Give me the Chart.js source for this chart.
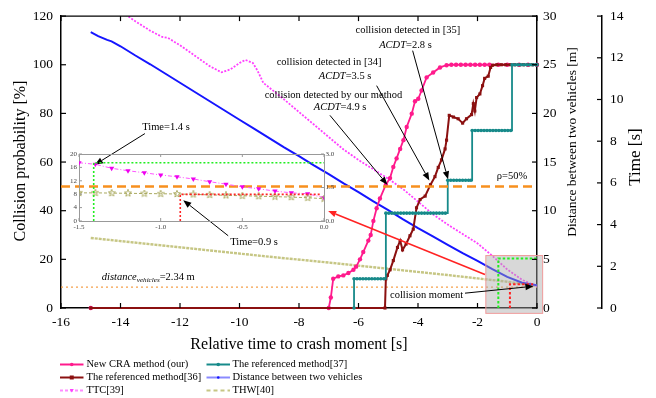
<!DOCTYPE html>
<html><head><meta charset="utf-8">
<script src="https://cdn.jsdelivr.net/npm/chart.js@4/dist/chart.umd.min.js"></script>
<style>
html,body{margin:0;padding:0;background:#fff;}
#wrap{position:relative;width:656px;height:398px;overflow:hidden;}
#main{position:absolute;left:0;top:0;}
#insetBox{position:absolute;left:50px;top:144px;width:300px;height:92px;}
</style></head><body>
<div id="wrap"><canvas id="main" width="656" height="398"></canvas><div id="insetBox"><canvas id="inset" width="300" height="92"></canvas></div></div>
<script>
// ---------------- data ----------------
const xTicks = [-16,-14,-12,-10,-8,-6,-4,-2,0];
const probTicks = [0,20,40,60,80,100,120];
const distTicks = [0,5,10,15,20,25,30];
const timeTicks = [0,2,4,6,8,10,12,14];

const ourTime = [-15,-7.0,-6.93,-6.85,-6.68,-6.51,-6.34,-6.17,-6.08,-5.95,-5.84,-5.67,-5.59,-5.5,-5.39,-5.28,-5.08,-4.94,-4.83,-4.72,-4.6,-4.49,-4.38,-4.21,-4.1,-3.99,-3.88,-3.71,-3.49,-3.26,-3.04,-2.88,-2.72,-2.56,-2.4,-2.24,-2.08,-1.92,-1.76,-1.6,-1.3,-1.0,-0.6,-0.3,0];
const ourProb = [0,0,4.3,12,13,13.4,14.4,15.7,17,20,23,27.7,30,35.8,41,45,50.7,53.4,58,61.5,65.4,69,74.4,79.9,85,86,89.4,94.8,96.8,98.9,99.8,100,100,100,100,100,100,100,100,100,100,100,100,100,100];

const m36Time = [-15,-5.11,-5.08,-5.03,-4.94,-4.83,-4.69,-4.6,-4.52,-4.4,-4.27,-4.16,-4.05,-3.93,-3.76,-3.58,-3.43,-3.32,-3.21,-3.09,-3.04,-2.95,-2.81,-2.65,-2.5,-2.37,-2.2,-2.14,-2.09,-2.03,-1.92,-1.83,-1.76,-1.64,-1.56,-1.49,-1.35,-1.2,-1.05,-0.9,-0.75,-0.6,-0.45,-0.3,-0.15,0];
const m36Prob = [0,0,12,13.4,15.7,19.5,24.9,27.7,23.9,26.3,29.7,32.4,41.2,44.6,46,50.7,54,57.8,60.9,65.4,69,79.2,78.5,77.8,76,77.8,79.5,84,81,86.5,88,91.4,94.4,95.3,98.9,99.8,100,100,100,100,100,100,100,100,100,100];

const m37Time = [-6.15,
 -6.15,-6.05,-5.95,-5.85,-5.75,-5.65,-5.55,-5.45,-5.35,-5.25,-5.15,
 -5.08,-4.98,-4.88,-4.78,-4.68,-4.58,-4.48,-4.38,-4.28,-4.18,-4.08,-3.98,-3.88,-3.78,-3.68,-3.58,-3.48,-3.38,-3.28,-3.18,-3.08,
 -3.0,-2.9,-2.8,-2.7,-2.6,-2.5,-2.4,-2.3,-2.22,
 -2.18,-2.08,-1.98,-1.88,-1.78,-1.68,-1.58,-1.48,-1.38,-1.28,-1.18,-1.08,-0.98,-0.88,
 -0.84,-0.74,-0.64,-0.54,-0.44,-0.34,-0.24,-0.14,-0.04,0];
const m37Prob = [0,
 12,12,12,12,12,12,12,12,12,12,12,
 39,39,39,39,39,39,39,39,39,39,39,39,39,39,39,39,39,39,39,39,39,
 52.5,52.5,52.5,52.5,52.5,52.5,52.5,52.5,52.5,
 73,73,73,73,73,73,73,73,73,73,73,73,73,73,
 100,100,100,100,100,100,100,100,100,100];

const distTime = [-15,-14.75,-14.45,-14.3,-14,-13.5,-13,-12.5,-12,-11.5,-11,-10.5,-10,-9.5,-9,-8.5,-8,-7.5,-7,-6.5,-6,-5.5,-5,-4.5,-4,-3.5,-3,-2.5,-2,-1.5,-1,-0.5,0];
const distMeters = [28.35,27.95,27.55,27.4,26.9,25.95,25.05,24.1,23.15,22.2,21.25,20.3,19.35,18.4,17.45,16.5,15.6,14.65,13.75,12.8,11.9,10.95,10.05,9.1,8.2,7.35,6.5,5.65,4.85,4.0,3.2,2.6,2.34];

const ttcTime = [-15,-14,-13.5,-13,-12.6,-12.4,-12,-11.5,-11,-10.6,-10.3,-10,-9.8,-9.55,-9.4,-9.2,-8.5,-8,-7.5,-7,-6.5,-6,-5.5,-5,-4.5,-4,-3.5,-3,-2.5,-2,-1.5,-1,-0.5,0];
const ttcSec = [15.2,14.25,13.75,13.3,13.0,12.95,12.6,12.1,11.6,11.3,11.45,11.75,11.9,11.75,11.4,10.8,10.0,9.4,8.8,8.2,7.6,7.1,6.65,6.2,5.7,5.1,4.5,4.0,3.55,3.1,2.5,1.85,1.35,1.04];

const thwTime = [-15,-13,-11,-9,-7,-5,-3,-2,-1,0];
const thwSec = [3.36,3.06,2.76,2.46,2.18,1.88,1.58,1.42,1.26,1.06];

const rhoLevel = 50;            // % threshold line
const crashDistLine = 2.15;     // m, dotted orange line
const mark14Time = -1.3, mark14Dist = 5.1;   // green marker
const mark09Time = -0.91, mark09Dist = 2.45; // red marker
const zoomBoxTime = [-1.72, 0.19], zoomBoxDist = [-0.55, 5.39];

// inset
const insetXTicks = [-1.5,-1.0,-0.5,0];
const insetLeftTicks = [0,4,8,12,16,20];
const insetRightTicks = [0,1.5,3.0];
const insetTime = [-1.5,-1.4,-1.3,-1.2,-1.1,-1.0,-0.9,-0.8,-0.7,-0.6,-0.5,-0.4,-0.3,-0.2,-0.1,0];
const insetTTC = [2.61,2.54,2.36,2.25,2.16,2.06,1.98,1.88,1.76,1.65,1.53,1.44,1.34,1.26,1.22,1.04];
const insetTHW = [1.26,1.26,1.25,1.24,1.23,1.22,1.21,1.19,1.17,1.15,1.13,1.11,1.09,1.07,1.04,1.00];
const insetMark14 = [-1.41, 2.61];
const insetMark09 = [-0.88, 1.19];

// ---------------- styling ----------------
const SERIF = '"Liberation Serif", "Times New Roman", serif';
const PINK='#ff1a8c', BROWN='#8b1010', TEAL='#178a8a', BLUE='#1515ff', MAGENTA='#ff40ff', KHAKI='#c6c684', ORANGE='#f7901e', GREEN='#22ee22', RED='#ff2323';
const pts = (xs, ys) => xs.map((x,i)=>({x, y: ys[i]}));

function line(ctx,x1,y1,x2,y2){ctx.beginPath();ctx.moveTo(x1,y1);ctx.lineTo(x2,y2);ctx.stroke();}
function arrow(ctx,x1,y1,x2,y2,color,w){
  ctx.save(); ctx.strokeStyle=color; ctx.fillStyle=color; ctx.lineWidth=w;
  const a=Math.atan2(y2-y1,x2-x1), L=8, H=3.2;
  const bx=x2-L*Math.cos(a), by=y2-L*Math.sin(a);
  line(ctx,x1,y1,bx,by);
  ctx.beginPath(); ctx.moveTo(x2,y2);
  ctx.lineTo(bx+H*Math.sin(a), by-H*Math.cos(a));
  ctx.lineTo(bx-H*Math.sin(a), by+H*Math.cos(a));
  ctx.closePath(); ctx.fill(); ctx.restore();
}
function drawRich(ctx, parts, x, y, align, size){
  const fontOf = p => `${p.italic?'italic ':''}${p.sub? size*0.68 : size}px ${SERIF}`;
  let w=0; parts.forEach(p=>{ctx.font=fontOf(p); w+=ctx.measureText(p.s).width;});
  let cx = align==='center'? x-w/2 : x;
  ctx.textAlign='left'; ctx.textBaseline='middle'; ctx.fillStyle='#000';
  parts.forEach(p=>{ctx.font=fontOf(p); ctx.fillText(p.s, cx, y+(p.sub?3:0)); cx+=ctx.measureText(p.s).width;});
}
function vtext(ctx,s,x,y,size){ctx.save();ctx.translate(x,y);ctx.rotate(-Math.PI/2);ctx.font=`${size}px ${SERIF}`;ctx.fillStyle='#000';ctx.textAlign='center';ctx.textBaseline='middle';ctx.fillText(s,0,0);ctx.restore();}

// annotation texts / arrows in data coordinates (x: s, y: %)
const notes = [
 {parts:[{s:'collision detected in [35]'}], t:-4.34, v:114.3, align:'center'},
 {parts:[{s:'ACDT',italic:true},{s:'=2.8 s'}], t:-4.42, v:108.2, align:'center'},
 {parts:[{s:'collision detected in [34]'}], t:-6.99, v:100.9, align:'center'},
 {parts:[{s:'ACDT',italic:true},{s:'=3.5 s'}], t:-6.45, v:95.2, align:'center'},
 {parts:[{s:'collision detected by our method'}], t:-6.84, v:87.5, align:'center'},
 {parts:[{s:'ACDT',italic:true},{s:'=4.9 s'}], t:-6.62, v:82.6, align:'center'},
 {parts:[{s:'\u03c1=50%'}], t:-0.84, v:54.1, align:'center'},
 {parts:[{s:'Time=1.4 s'}], t:-12.47, v:74.4, align:'center'},
 {parts:[{s:'Time=0.9 s'}], t:-9.51, v:27, align:'center'},
 {parts:[{s:'distance',italic:true},{s:'vehicles',italic:true,sub:true},{s:'=2.34 m'}], t:-14.63, v:12.7, align:'left'},
 {parts:[{s:'collision moment'}], t:-4.94, v:5.3, align:'left'}
];
const arrows = [
 {from:[-4.18,105.8], to:[-2.99,52.9], color:'#000', w:1},
 {from:[-5.39,91.4], to:[-3.62,52.4], color:'#000', w:1},
 {from:[-6.96,79.2], to:[-5.03,50.7], color:'#000', w:1},
 {from:[-13.18,71.7], to:[-14.86,58.9], color:'#000', w:1},
 {from:[-10.38,29.7], to:[-11.89,44.3], color:'#000', w:1},
 {from:[-2.42,6.1], to:[-0.12,8.95], color:'#000', w:1},
 {from:[-1.75,13.8], to:[-7.02,39.9], color:RED, w:1.5}
];

const edgeClip = {left:5, top:0, right:5, bottom:5};
const datasets = [
 {label:'New CRA method (our)', data:pts(ourTime,ourProb), yAxisID:'y', borderColor:PINK, backgroundColor:PINK, borderWidth:1.8, pointStyle:'circle', pointRadius:2.2, pointBorderWidth:0, order:5, clip:edgeClip},
 {label:'The referenced method[36]', data:pts(m36Time,m36Prob), yAxisID:'y', borderColor:BROWN, backgroundColor:BROWN, borderWidth:2, pointStyle:'rect', pointRadius:2.2, pointBorderWidth:0, order:4, clip:edgeClip},
 {label:'The referenced method[37]', data:pts(m37Time,m37Prob), yAxisID:'y', borderColor:TEAL, backgroundColor:TEAL, borderWidth:1.8, stepped:true, pointStyle:'circle', pointRadius:1.8, pointBorderWidth:0, order:3, clip:edgeClip},
 {label:'Distance between two vehicles', data:pts(distTime,distMeters), yAxisID:'yDist', borderColor:BLUE, backgroundColor:BLUE, borderWidth:2, pointRadius:0, order:6, legendLine:'#8a8aff'},
 {label:'TTC[39]', data:pts(ttcTime,ttcSec), yAxisID:'yTime', borderColor:MAGENTA, backgroundColor:MAGENTA, borderWidth:1.8, borderDash:[2,1.5], pointRadius:0, order:7, legendLine:'#ff8cff', legendDash:[3,2]},
 {label:'THW[40]', data:pts(thwTime,thwSec), yAxisID:'yTime', borderColor:KHAKI, backgroundColor:KHAKI, borderWidth:2.4, borderDash:[3,1], pointRadius:0, order:9, legendDash:[4,3]},
 {label:'rho', data:pts([-16,0],[rhoLevel,rhoLevel]), yAxisID:'y', borderColor:ORANGE, borderWidth:2.5, borderDash:[9,5], pointRadius:0, order:2},
 {label:'crashDist', data:pts([-16,0],[crashDistLine,crashDistLine]), yAxisID:'yDist', borderColor:'#f5a04a', borderWidth:1.3, borderDash:[2,3], pointRadius:0, order:8},
 {label:'mark14', data:pts([mark14Time,mark14Time,0],[0,mark14Dist,mark14Dist]), yAxisID:'yDist', borderColor:GREEN, borderWidth:2, borderDash:[2.5,2], pointRadius:0, order:1},
 {label:'mark09', data:pts([mark09Time,mark09Time,-0.13],[0,mark09Dist,mark09Dist]), yAxisID:'yDist', borderColor:RED, borderWidth:2, borderDash:[2.5,2], pointRadius:0, order:0}
];

const mainDecor = {
 id:'mainDecor',
 beforeDatasetDraw(chart,args){
   if (chart.data.datasets[args.index].label!=='mark14') return;
   const {ctx,scales:s}=chart;
   const x1=s.x.getPixelForValue(zoomBoxTime[0]), x2=s.x.getPixelForValue(zoomBoxTime[1]);
   const y1=s.yDist.getPixelForValue(zoomBoxDist[1]), y2=s.yDist.getPixelForValue(zoomBoxDist[0]);
   ctx.save(); ctx.fillStyle='rgba(168,168,168,0.45)'; ctx.fillRect(x1,y1,x2-x1,y2-y1);
   ctx.strokeStyle='#f09a9a'; ctx.lineWidth=1; ctx.strokeRect(x1,y1,x2-x1,y2-y1); ctx.restore();
 },
 afterDraw(chart){
   const {ctx,chartArea:a,scales:s}=chart;
   ctx.save(); ctx.strokeStyle='#000'; ctx.lineWidth=1.2;
   line(ctx,a.left,a.top,a.right,a.top);
   s.x.ticks.forEach(t=>{const p=s.x.getPixelForValue(t.value); line(ctx,p,a.bottom,p,a.bottom-5); line(ctx,p,a.top,p,a.top+5);});
   s.y.ticks.forEach(t=>{const p=s.y.getPixelForValue(t.value); line(ctx,a.left,p,a.left+5,p);});
   s.yDist.ticks.forEach(t=>{const p=s.yDist.getPixelForValue(t.value); line(ctx,a.right,p,a.right-5,p);});
   s.yTime.ticks.forEach(t=>{const p=s.yTime.getPixelForValue(t.value); line(ctx,s.yTime.left,p,s.yTime.left-5,p);});
   ctx.restore();
   // axis titles
   vtext(ctx,'Collision probability [%]',21,161,16);
   vtext(ctx,'Distance between two vehicles [m]',572,142,13.5);
   vtext(ctx,'Time [s]',636,157,17);
   ctx.save(); ctx.font=`16px ${SERIF}`; ctx.fillStyle='#000'; ctx.textAlign='center'; ctx.textBaseline='middle';
   ctx.fillText('Relative time to crash moment [s]',(a.left+a.right)/2,345); ctx.restore();
   // annotations
   arrows.forEach(r=>{arrow(ctx,s.x.getPixelForValue(r.from[0]),s.y.getPixelForValue(r.from[1]),s.x.getPixelForValue(r.to[0]),s.y.getPixelForValue(r.to[1]),r.color,r.w);});
   notes.forEach(n=>drawRich(ctx,n.parts,s.x.getPixelForValue(n.t),s.y.getPixelForValue(n.v),n.align,10.5));
   // legend (2 columns x 3 rows)
   const rows=[364.5,377.5,390.5];
   const cols=[{x0:60,x1:83.5,tx:86.5},{x0:206.5,x1:230,tx:232.5}];
   const layout=[[0,2],[1,3],[4,5]];
   layout.forEach((r,ri)=>r.forEach((di,ci)=>{
     const d=chart.data.datasets[di], c=cols[ci], y=rows[ri];
     ctx.save(); ctx.strokeStyle=d.legendLine||d.borderColor; ctx.lineWidth=2;
     ctx.setLineDash(d.legendDash||[]); line(ctx,c.x0,y,c.x1,y); ctx.setLineDash([]);
     const mx=(c.x0+c.x1)/2; ctx.fillStyle=d.borderColor;
     if(d.pointStyle==='rect'){ctx.fillRect(mx-2,y-2,4,4);}
     else if(di===4){ctx.beginPath();ctx.moveTo(mx-2,y-1.5);ctx.lineTo(mx+2,y-1.5);ctx.lineTo(mx,y+2);ctx.closePath();ctx.fill();}
     else if(di!==5){ctx.beginPath();ctx.arc(mx,y,di===3?1.3:1.8,0,Math.PI*2);ctx.fill();}
     ctx.restore();
     ctx.save(); ctx.font=`10.5px ${SERIF}`; ctx.fillStyle='#000'; ctx.textAlign='left'; ctx.textBaseline='middle';
     ctx.fillText(d.label,c.tx,y); ctx.restore();
   }));
 }
};

const tickFont = {family:SERIF, size:13.5};
const noGrid = {display:false, drawTicks:false};
const axisBorder = {display:true, color:'#000', width:1.5};
new Chart(document.getElementById('main'), {
 type:'line',
 data:{datasets},
 options:{
  responsive:false, devicePixelRatio:1, animation:false, events:[],
  layout:{padding:{top:13,left:0,right:0,bottom:0}},
  elements:{line:{tension:0}},
  plugins:{legend:{display:false}, tooltip:{enabled:false}},
  scales:{
   x:{type:'linear', position:'bottom', min:-16, max:0,
      afterBuildTicks:sc=>{sc.ticks=xTicks.map(v=>({value:v}));},
      ticks:{font:tickFont, color:'#000', padding:6, maxRotation:0, autoSkip:false},
      grid:noGrid, border:axisBorder, afterFit:sc=>{sc.height=90;}},
   y:{type:'linear', position:'left', min:0, max:120,
      afterBuildTicks:sc=>{sc.ticks=probTicks.map(v=>({value:v}));},
      ticks:{font:tickFont, color:'#000', padding:8},
      grid:noGrid, border:axisBorder, afterFit:sc=>{sc.width=61;}},
   yDist:{type:'linear', position:'right', min:0, max:30, weight:0,
      afterBuildTicks:sc=>{sc.ticks=distTicks.map(v=>({value:v}));},
      ticks:{font:tickFont, color:'#000', padding:6},
      grid:noGrid, border:axisBorder, afterFit:sc=>{sc.width=65;}},
   yTime:{type:'linear', position:'right', min:0, max:14, weight:1,
      afterBuildTicks:sc=>{sc.ticks=timeTicks.map(v=>({value:v}));},
      ticks:{font:tickFont, color:'#000', padding:8},
      grid:noGrid, border:axisBorder, afterFit:sc=>{sc.width=54;}}
  }
 },
 plugins:[mainDecor]
});

// ---------------- inset ----------------
function makeStar(size,color){
  const c=document.createElement('canvas'); c.width=c.height=size; const g=c.getContext('2d');
  g.strokeStyle=color; g.lineWidth=0.9; g.beginPath();
  for(let i=0;i<10;i++){const r=i%2? size*0.2: size*0.46; const an=-Math.PI/2+i*Math.PI/5;
    const x=size/2+r*Math.cos(an), y=size/2+r*Math.sin(an); i?g.lineTo(x,y):g.moveTo(x,y);}
  g.closePath(); g.stroke(); return c;
}
const insetDecor = {
 id:'insetDecor',
 afterDraw(c){
  const {ctx,chartArea:a,scales:s}=c; ctx.save(); ctx.strokeStyle='#999'; ctx.lineWidth=1;
  line(ctx,a.left,a.top+0.5,a.right,a.top+0.5);
  s.x.ticks.forEach(t=>{const p=s.x.getPixelForValue(t.value); line(ctx,p,a.bottom,p,a.bottom-3); line(ctx,p,a.top,p,a.top+3);});
  s.y.ticks.forEach(t=>{const p=s.y.getPixelForValue(t.value); line(ctx,a.left,p,a.left+3,p);});
  s.yR.ticks.forEach(t=>{const p=s.yR.getPixelForValue(t.value); line(ctx,a.right,p,a.right-3,p);});
  ctx.restore();
 }
};
const insetFont = {family:SERIF, size:7};
const insetBorder = {display:true, color:'#999', width:1};
new Chart(document.getElementById('inset'), {
 type:'line',
 data:{datasets:[
  {label:'TTC inset', data:pts(insetTime,insetTTC), yAxisID:'yR', borderColor:'#ff55ff', backgroundColor:'#ee00ee', borderWidth:1, borderDash:[4,2,1,2], pointStyle:'triangle', pointRotation:180, pointRadius:3, pointBorderWidth:0, order:3},
  {label:'THW inset', data:pts(insetTime,insetTHW), yAxisID:'yR', borderColor:'#a9a95e', backgroundColor:'#a9a95e', borderWidth:1, borderDash:[3,2], pointStyle:makeStar(8,'#a9a95e'), pointRadius:3, order:2},
  {label:'mark14 inset', data:pts([insetMark14[0],insetMark14[0],0],[0,insetMark14[1],insetMark14[1]]), yAxisID:'yR', borderColor:GREEN, borderWidth:1.6, borderDash:[2,2], pointRadius:0, order:1},
  {label:'mark09 inset', data:pts([insetMark09[0],insetMark09[0],-0.02],[0,insetMark09[1],insetMark09[1]]), yAxisID:'yR', borderColor:RED, borderWidth:1.6, borderDash:[2,2], pointRadius:0, order:0}
 ]},
 options:{
  responsive:false, devicePixelRatio:1, animation:false, events:[],
  layout:{padding:{top:10,left:0,right:0,bottom:0}},
  elements:{line:{tension:0}},
  plugins:{legend:{display:false}, tooltip:{enabled:false}},
  scales:{
   x:{type:'linear', position:'bottom', min:-1.5, max:0,
      afterBuildTicks:sc=>{sc.ticks=insetXTicks.map(v=>({value:v}));},
      ticks:{font:insetFont, color:'#444', padding:1.5, maxRotation:0, autoSkip:false, callback:v=>Number(v).toFixed(1)},
      grid:noGrid, border:insetBorder, afterFit:sc=>{sc.height=15;}},
   y:{type:'linear', position:'left', min:0, max:20,
      afterBuildTicks:sc=>{sc.ticks=insetLeftTicks.map(v=>({value:v}));},
      ticks:{font:insetFont, color:'#444', padding:2},
      grid:noGrid, border:insetBorder, afterFit:sc=>{sc.width=29;}},
   yR:{type:'linear', position:'right', min:0, max:3,
      afterBuildTicks:sc=>{sc.ticks=insetRightTicks.map(v=>({value:v}));},
      ticks:{font:insetFont, color:'#444', padding:1.5, callback:v=>Number(v).toFixed(1)},
      grid:noGrid, border:insetBorder, afterFit:sc=>{sc.width=26;}}
  }
 },
 plugins:[insetDecor]
});
</script>
</body></html>
